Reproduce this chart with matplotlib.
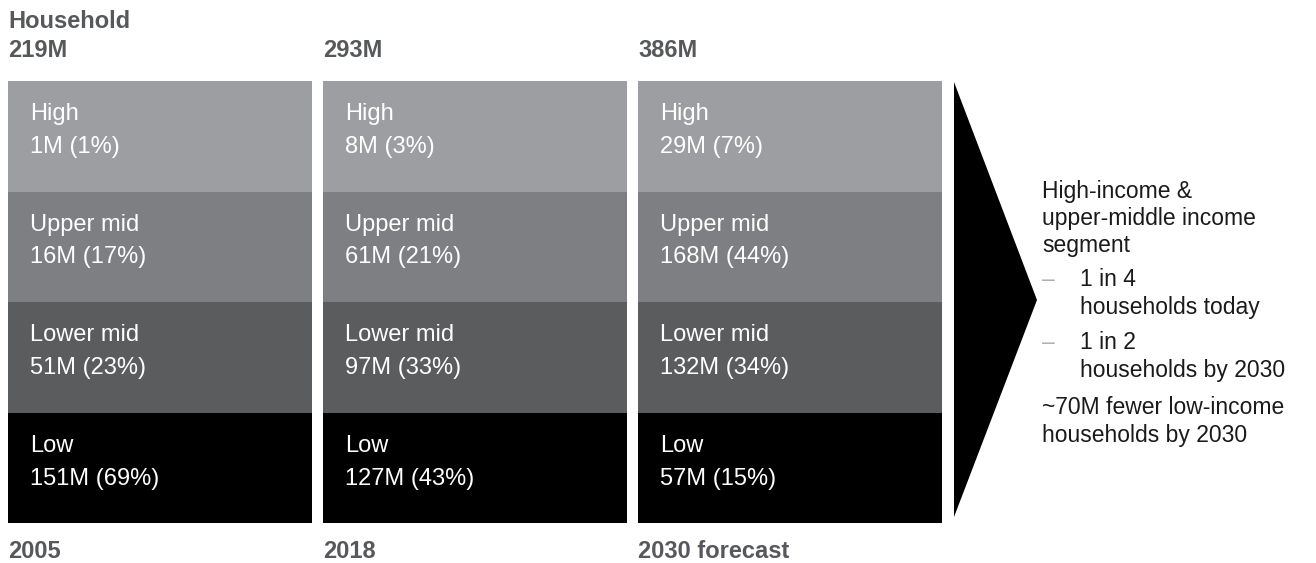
import matplotlib.pyplot as plt
from matplotlib.patches import Polygon

plt.rcParams['font.family'] = ['Liberation Sans', 'DejaVu Sans']

years = ["2005", "2018", "2030 forecast"]
totals = [219, 293, 386]

# segments listed top to bottom
segments = ["High", "Upper mid", "Lower mid", "Low"]
high_m = [1, 8, 29]
high_pct = [1, 3, 7]
upper_mid_m = [16, 61, 168]
upper_mid_pct = [17, 21, 44]
lower_mid_m = [51, 97, 132]
lower_mid_pct = [23, 33, 34]
low_m = [151, 127, 57]
low_pct = [69, 43, 15]

seg_values = [(high_m, high_pct), (upper_mid_m, upper_mid_pct),
              (lower_mid_m, lower_mid_pct), (low_m, low_pct)]
seg_colors = ["#9d9ea2", "#7e7f83", "#5b5c5e", "#000000"]

notes = [
    ("", "High-income &"),
    ("", "upper-middle income"),
    ("", "segment"),
    ("–", "1 in 4"),
    (None, "households today"),
    ("–", "1 in 2"),
    (None, "households by 2030"),
    ("", "~70M fewer low-income"),
    ("", "households by 2030"),
]
note_baselines = [198, 225, 252, 286, 314, 349, 377, 414, 442]

W, H = 1316, 563
fig = plt.figure(figsize=(W / 100, H / 100), dpi=100)
ax = fig.add_axes([0, 0, 1, 1])
ax.set_xlim(0, W)
ax.set_ylim(H, 0)
ax.axis("off")

col_left = [8, 323, 638]
col_w = 303.5
top, bottom = 81, 523
block_h = (bottom - top) / len(segments)
head_color = "#57585b"
fs = 17

ax.text(8, 28, "Household", fontsize=fs, fontweight="bold",
        color=head_color, va="baseline")

for j, year in enumerate(years):
    x0 = col_left[j]
    ax.text(x0, 57, f"{totals[j]}M", fontsize=fs, fontweight="bold",
            color=head_color, va="baseline")
    ax.text(x0, 558, year, fontsize=fs, fontweight="bold",
            color=head_color, va="baseline")
    for i, name in enumerate(segments):
        y0 = top + i * block_h
        ax.bar(x0, block_h, width=col_w, bottom=y0, align="edge",
               color=seg_colors[i], linewidth=0)
        m, pct = seg_values[i]
        ax.text(x0 + 22, y0 + 39, name, fontsize=fs, color="white",
                va="baseline")
        ax.text(x0 + 22, y0 + 72, f"{m[j]}M ({pct[j]}%)", fontsize=fs,
                color="white", va="baseline")

# arrow pointing to the summary
ax.add_patch(Polygon([(954, 82), (1037, 300), (954, 517)], closed=True,
                     facecolor="black", edgecolor="none"))

for (dash, line), yb in zip(notes, note_baselines):
    if dash is None or dash:
        if dash:
            ax.text(1042, yb, dash, fontsize=16.5, color="#b0b0b0",
                    va="baseline")
        ax.text(1080, yb, line, fontsize=16.5, color="#1a1a1a",
                va="baseline")
    else:
        ax.text(1042, yb, line, fontsize=16.5, color="#1a1a1a",
                va="baseline")

fig.savefig("out.png", dpi=100)
